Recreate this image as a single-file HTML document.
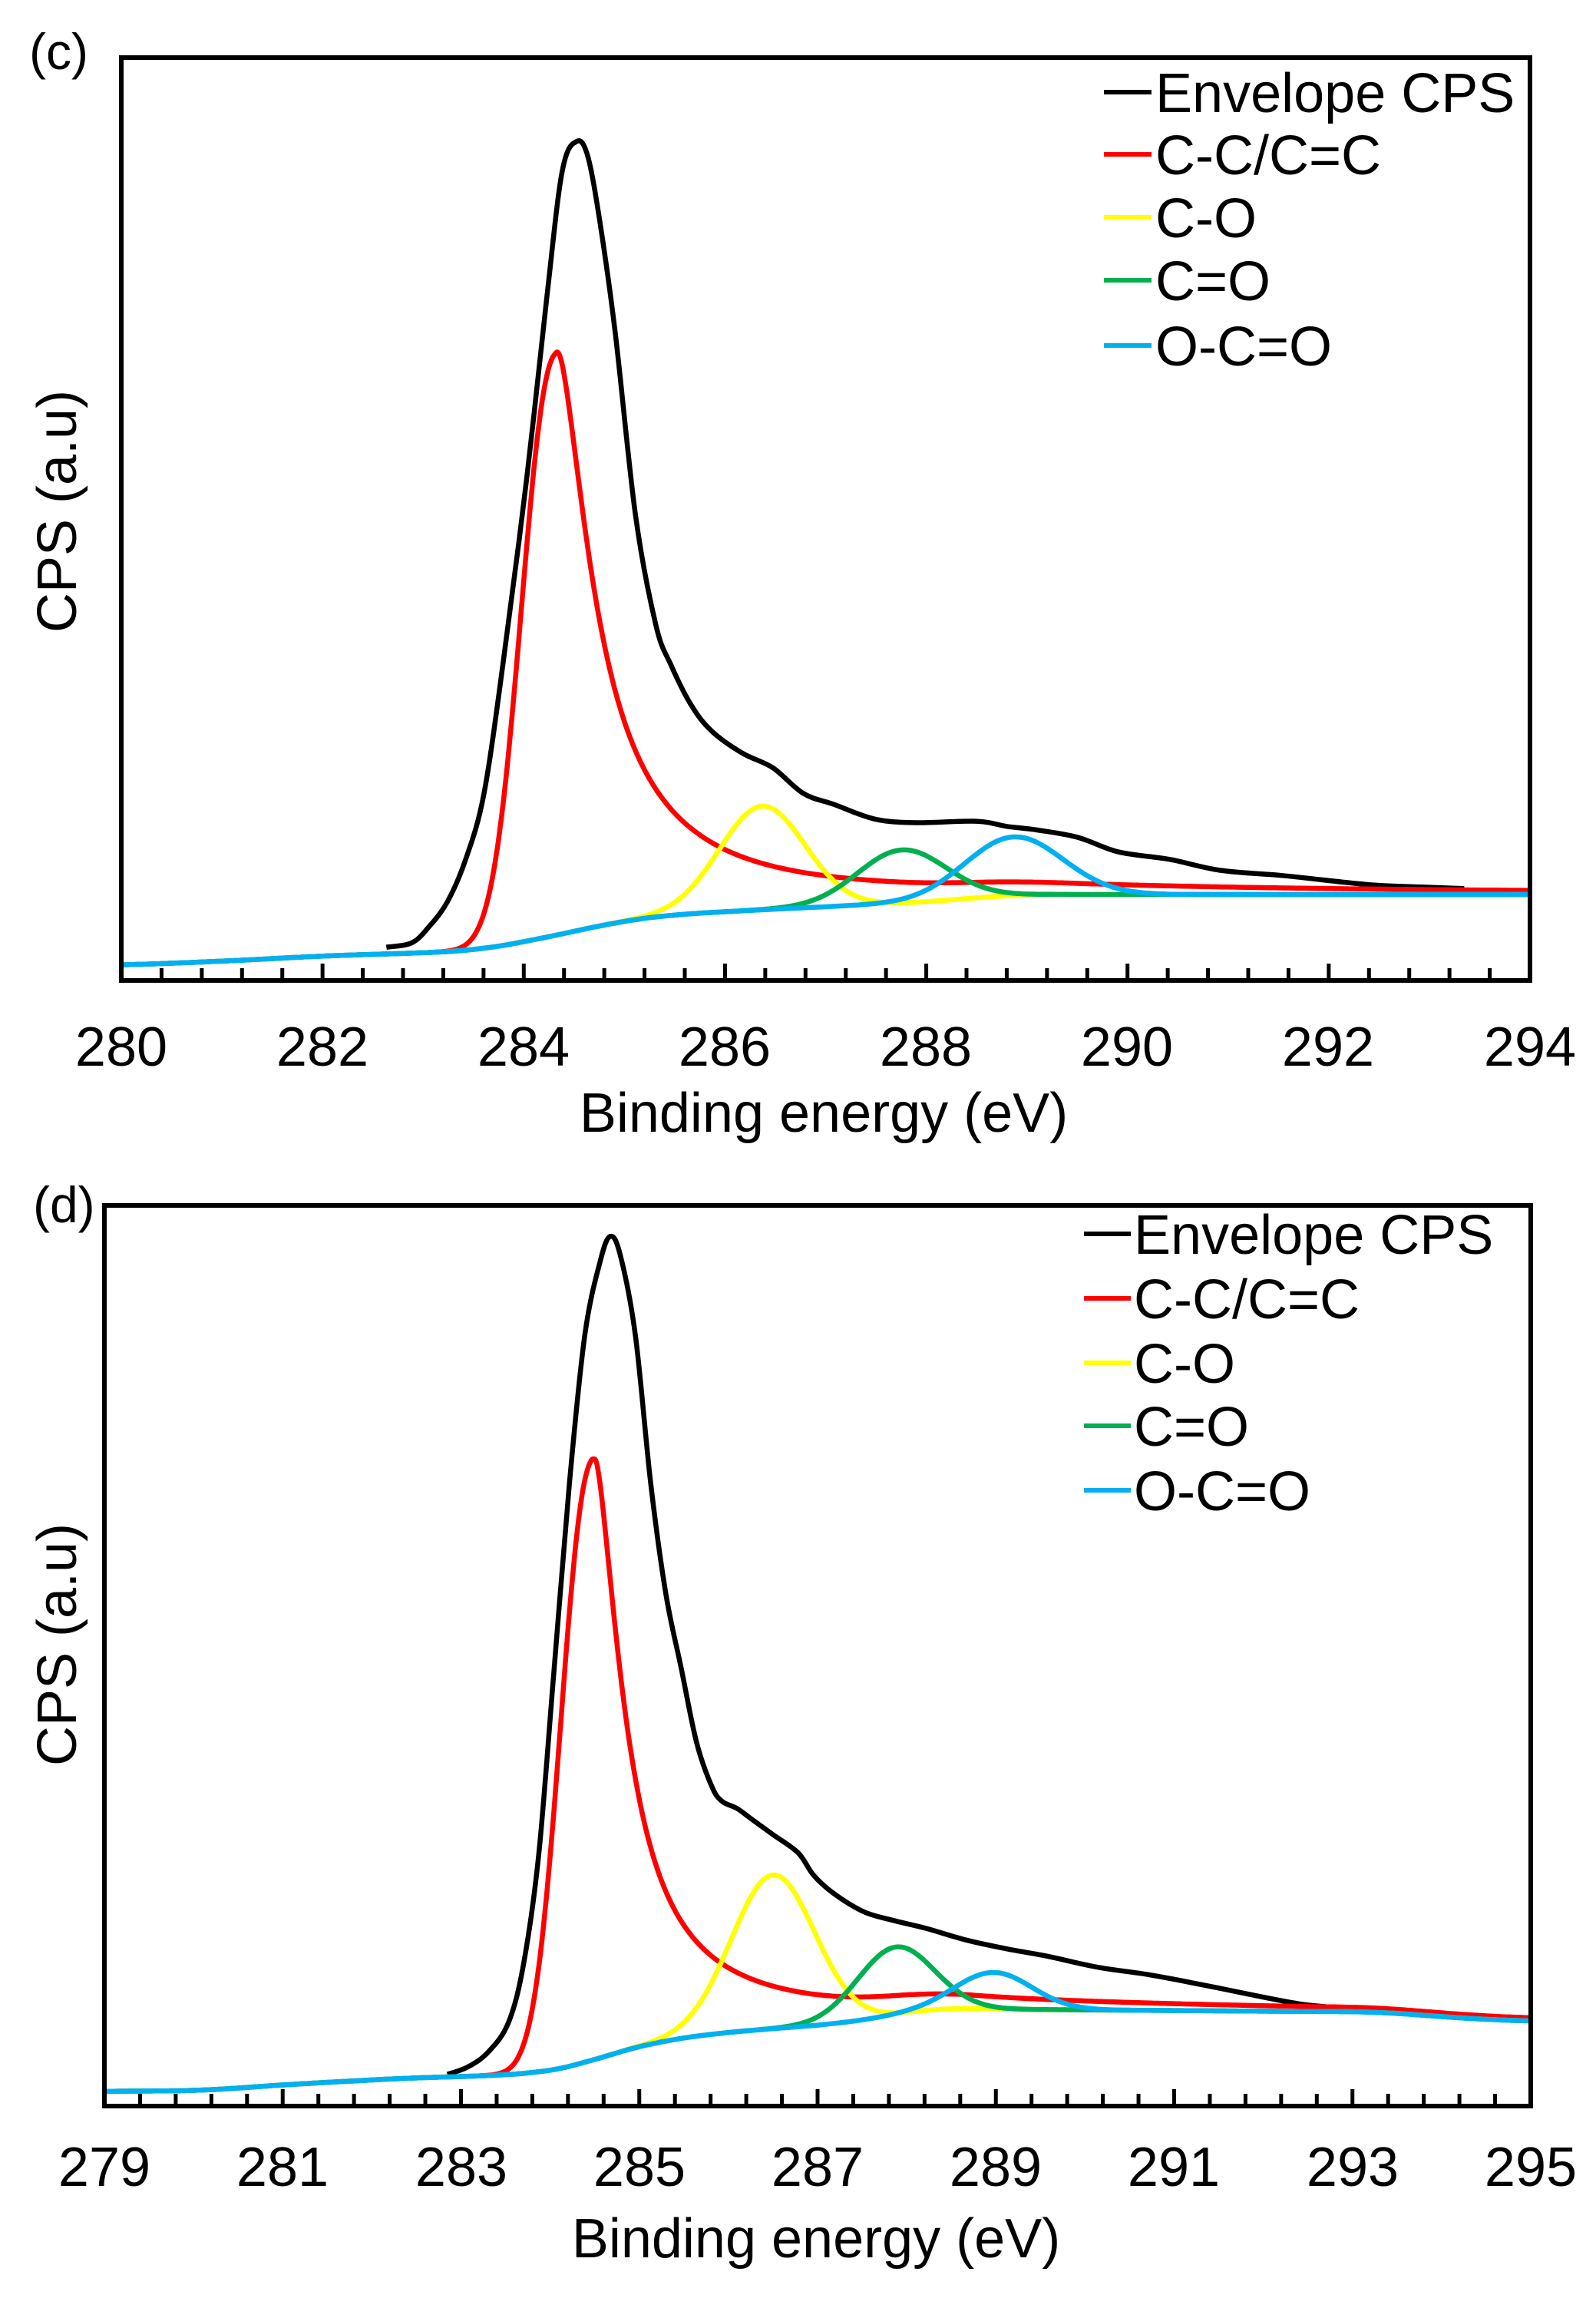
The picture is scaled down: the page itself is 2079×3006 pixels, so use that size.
<!DOCTYPE html>
<html><head><meta charset="utf-8"><style>
html,body{margin:0;padding:0;background:#fff;}
svg{display:block;}
text{font-family:"Liberation Sans",Arial,sans-serif;fill:#000;}
</style></head><body>
<svg id="s" width="2079" height="3006" viewBox="0 0 2079 3006" xmlns="http://www.w3.org/2000/svg">
<rect width="2079" height="3006" fill="#fff"/>
<g id="plots"></g>
<text x="38" y="90" font-size="66">(c)</text>
<g font-size="72" text-anchor="middle">
<text x="158" y="1388">280</text><text x="420" y="1388">282</text><text x="682" y="1388">284</text>
<text x="944" y="1388">286</text><text x="1206" y="1388">288</text><text x="1468" y="1388">290</text>
<text x="1730" y="1388">292</text><text x="1993" y="1388">294</text>
<text x="1073" y="1474">Binding energy (eV)</text>
<text transform="translate(99,666) rotate(-90)">CPS (a.u)</text>
</g>
<g font-size="72">
<text x="1505" y="146">Envelope CPS</text>
<text x="1505" y="227">C-C/C=C</text>
<text x="1505" y="309">C-O</text>
<text x="1505" y="391">C=O</text>
<text x="1505" y="476">O-C=O</text>
</g>
<g stroke-width="6">
<line x1="1438" y1="120" x2="1500" y2="120" stroke="#000"/>
<line x1="1438" y1="201" x2="1500" y2="201" stroke="#ff0000"/>
<line x1="1438" y1="283" x2="1500" y2="283" stroke="#ffff00"/>
<line x1="1438" y1="365" x2="1500" y2="365" stroke="#00b050"/>
<line x1="1438" y1="450" x2="1500" y2="450" stroke="#00b0f0"/>
</g>
<text x="43" y="1592" font-size="66">(d)</text>
<g font-size="72" text-anchor="middle">
<text x="136" y="2847">279</text><text x="368" y="2847">281</text><text x="601" y="2847">283</text>
<text x="833" y="2847">285</text><text x="1065" y="2847">287</text><text x="1297" y="2847">289</text>
<text x="1529" y="2847">291</text><text x="1762" y="2847">293</text><text x="1994" y="2847">295</text>
<text x="1063" y="2940">Binding energy (eV)</text>
<text transform="translate(99,2142) rotate(-90)">CPS (a.u)</text>
</g>
<g font-size="72">
<text x="1477" y="1633">Envelope CPS</text>
<text x="1477" y="1717">C-C/C=C</text>
<text x="1477" y="1801">C-O</text>
<text x="1477" y="1883">C=O</text>
<text x="1477" y="1967">O-C=O</text>
</g>
<g stroke-width="6">
<line x1="1412" y1="1607" x2="1473" y2="1607" stroke="#000"/>
<line x1="1412" y1="1691" x2="1473" y2="1691" stroke="#ff0000"/>
<line x1="1412" y1="1775" x2="1473" y2="1775" stroke="#ffff00"/>
<line x1="1412" y1="1857" x2="1473" y2="1857" stroke="#00b050"/>
<line x1="1412" y1="1941" x2="1473" y2="1941" stroke="#00b0f0"/>
</g>
</svg>
<script>
(function(){
var NS="http://www.w3.org/2000/svg", G=document.getElementById("plots");
function el(t,a){var e=document.createElementNS(NS,t);for(var k in a)e.setAttribute(k,a[k]);G.appendChild(e);return e;}
function interp(p,x){if(x<=p[0][0])return p[0][1];for(var i=1;i<p.length;i++){if(x<=p[i][0]){var t=(x-p[i-1][0])/(p[i][0]-p[i-1][0]);return p[i-1][1]+t*(p[i][1]-p[i-1][1]);}}return p[p.length-1][1];}
function smooth(pts){var d="M"+pts[0][0].toFixed(1)+" "+pts[0][1].toFixed(1);
for(var i=0;i<pts.length-1;i++){var p0=pts[i-1]||pts[i],p1=pts[i],p2=pts[i+1],p3=pts[i+2]||p2;
var c1x=p1[0]+(p2[0]-p0[0])/6,c1y=p1[1]+(p2[1]-p0[1])/6,c2x=p2[0]-(p3[0]-p1[0])/6,c2y=p2[1]-(p3[1]-p1[1])/6;
d+="C"+c1x.toFixed(1)+" "+c1y.toFixed(1)+" "+c2x.toFixed(1)+" "+c2y.toFixed(1)+" "+p2[0].toFixed(1)+" "+p2[1].toFixed(1);}return d;}
function panel(P){
 var X=function(e){return P.x0+(e-P.e0)*(P.x1-P.x0)/(P.e1-P.e0);};
 var N=400, i, e, W=10;
 var raw=[],bgs=[];
 for(i=0;i<=N;i++){raw.push(interp(P.bg,P.e0+(P.e1-P.e0)*i/N));}
 for(i=0;i<=N;i++){var s=0,c=0;for(var j=-W;j<=W;j++){var k=Math.min(N,Math.max(0,i+j));s+=raw[k];c++;}bgs.push(s/c);}
 var B=function(e){var t=(e-P.e0)/(P.e1-P.e0)*N;var k=Math.max(0,Math.min(N-1,Math.floor(t)));var f=t-k;return bgs[k]*(1-f)+bgs[k+1]*f;};
 function comp(f){var pts=[];for(i=0;i<=N;i++){e=P.e0+(P.e1-P.e0)*i/N;pts.push([X(e),B(e)-f(e)]);}return pts;}
 el("path",{d:smooth(P.black),fill:"none",stroke:"#000","stroke-width":6.5,"stroke-linejoin":"round"});
 var r=P.red, Ar=B(r.c)-r.py;
 el("path",{d:smooth(comp(function(e){var d=e-r.c;if(d<0)return Ar*Math.exp(-0.693*Math.pow(-d/r.hl,2.3));return Ar/(1+Math.pow(d/r.g,1.6));})),fill:"none",stroke:"#ff0000","stroke-width":6.5});
 P.g.forEach(function(q){var A=B(q.c)-q.py;
  el("path",{d:smooth(comp(function(e){var d=(e-q.c)/q.h;return A*Math.exp(-0.693*d*d);})),fill:"none",stroke:q.col,"stroke-width":6.5});});
 el("rect",{x:P.x0,y:P.y0,width:P.x1-P.x0,height:P.y1-P.y0,fill:"none",stroke:"#000","stroke-width":6});
 var n=Math.round((P.e1-P.e0)/0.4);
 for(i=1;i<n;i++){e=P.e0+i*0.4;var maj=Math.abs(((e-P.e0)/2)-Math.round((e-P.e0)/2))<0.01;var x=X(e);
  el("line",{x1:x,y1:P.y1,x2:x,y2:P.y1-(maj?22:16),stroke:"#000","stroke-width":5});}
}
function cz(p){return p.map(function(q){return [q[0]/0.755,q[1]*0.954+3];});}
function dz(p){return p.map(function(q){return [q[0]/0.755,1570+(q[1]-73)*0.9615];});}
panel({x0:158,x1:1993,y0:75,y1:1277,e0:280,e1:294,
 bg:[[280,1257],[281,1252],[282,1245],[283,1241],[283.5,1238],[284,1227],[284.5,1213],[285,1199],[285.5,1191],[286.5,1184],[287.5,1178],[288,1175],[288.5,1169],[289,1165],[294,1165]],
 black:cz([[380,1290],[405,1284],[422,1262],[440,1228],[458,1170],[476,1080],[495,900],[518,650],[538,400],[553,230],[567,190],[578,210],[590,300],[605,450],[625,700],[645,850],[660,905],[680,960],[700,995],[730,1025],[760,1045],[790,1080],[820,1095],[860,1115],[900,1120],[960,1118],[990,1125],[1020,1130],[1060,1140],[1100,1160],[1150,1170],[1200,1185],[1260,1192],[1300,1198],[1350,1205],[1400,1208],[1440,1210]]),
 red:{c:284.34,py:459,hl:0.4,g:0.44},
 g:[{c:286.37,py:1050,h:0.5,col:"#ffff00"},{c:287.76,py:1107,h:0.52,col:"#00b050"},{c:288.87,py:1090,h:0.57,col:"#00b0f0"}]});
var dbgz=[[103,1273],[200,1272],[280,1264],[400,1255],[480,1252],[530,1248],[570,1238],[600,1222],[650,1205],[700,1195],[760,1188],[820,1182],[870,1172],[920,1160],[1000,1162],[1100,1163],[1300,1165],[1350,1165],[1400,1170],[1450,1175],[1505,1178]];
var dbg=dz(dbgz).map(function(q){return [279+(q[0]-136)/116.1,q[1]];});
panel({x0:136,x1:1994,y0:1570,y1:2743,e0:279,e1:295,
 bg:dbg,
 black:dz([[440,1250],[460,1240],[480,1220],[500,1180],[515,1100],[530,950],[545,700],[560,450],[575,250],[590,150],[600,115],[610,140],[625,250],[640,450],[655,600],[670,700],[685,800],[700,860],[710,880],[725,890],[740,905],[760,925],[785,950],[800,980],[820,1005],[850,1030],[880,1042],[910,1052],[950,1068],[990,1080],[1030,1090],[1080,1105],[1130,1115],[1180,1128],[1230,1142],[1280,1155],[1320,1160]]),
 red:{c:284.50,py:1899,hl:0.42,g:0.40},
 g:[{c:286.50,py:2442,h:0.55,col:"#ffff00"},{c:287.87,py:2536,h:0.5,col:"#00b050"},{c:288.98,py:2569,h:0.5,col:"#00b0f0"}]});
})();
</script>
</body></html>
